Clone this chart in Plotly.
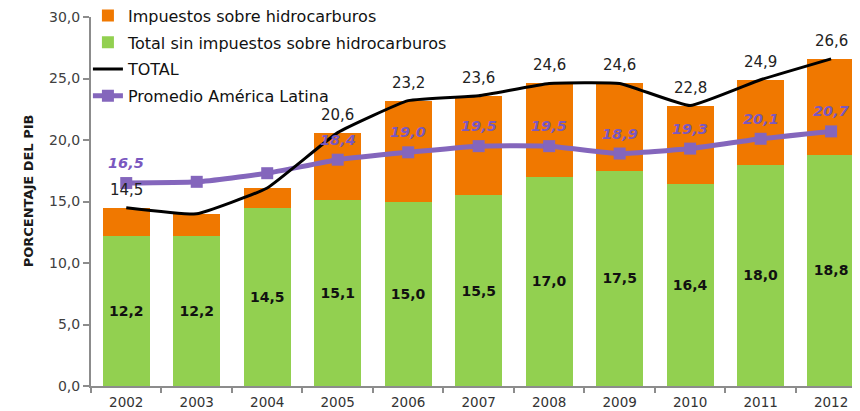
import plotly.graph_objects as go

years = ["2002", "2003", "2004", "2005", "2006", "2007", "2008", "2009", "2010", "2011", "2012"]
sin_hidro = [12.2, 12.2, 14.5, 15.1, 15.0, 15.5, 17.0, 17.5, 16.4, 18.0, 18.8]
total = [14.5, 14.0, 16.1, 20.6, 23.2, 23.6, 24.6, 24.6, 22.8, 24.9, 26.6]
hidro = [round(t - s, 1) for t, s in zip(total, sin_hidro)]
promedio_al = [16.5, 16.6, 17.3, 18.4, 19.0, 19.5, 19.5, 18.9, 19.3, 20.1, 20.7]
show_total_label = [True, False, False, True, True, True, True, True, True, True, True]
show_prom_label = [True, False, False, True, True, True, True, True, True, True, True]

FONT = "DejaVu Sans"
ORANGE = "#F07800"
GREEN = "#92D050"
PURPLE = "#8466BC"
PURPLE_TXT = "#7A58C0"


def fmt(v):
    return f"{v:.1f}".replace(".", ",")


fig = go.Figure()
fig.add_trace(go.Bar(
    x=years, y=sin_hidro, name="Total sin impuestos sobre hidrocarburos",
    marker=dict(color=GREEN, line=dict(width=0)),
    text=[fmt(v) for v in sin_hidro], textposition="inside",
    insidetextanchor="middle", textangle=0,
    textfont=dict(family=FONT, size=14, color="#111111", weight="bold"),
    legendrank=2, legendgroup="g2",
))
fig.add_trace(go.Bar(
    x=years, y=hidro, name="Impuestos sobre hidrocarburos",
    marker=dict(color=ORANGE, line=dict(width=0)),
    legendrank=1, legendgroup="g1",
))
fig.add_trace(go.Scatter(
    x=years, y=promedio_al, name="Promedio América Latina", mode="lines+markers",
    line=dict(color=PURPLE, width=5, shape="spline", smoothing=0.5),
    marker=dict(symbol="square", size=12, color=PURPLE),
    legendrank=4, legendgroup="g4",
))
fig.add_trace(go.Scatter(
    x=years, y=total, name="TOTAL", mode="lines",
    line=dict(color="#000000", width=3, shape="spline", smoothing=0.35),
    legendrank=3, legendgroup="g3",
))

annotations = []
for i, (v, show) in enumerate(zip(total, show_total_label)):
    if show:
        annotations.append(dict(
            x=i, y=v, xref="x", yref="y", text=fmt(v), showarrow=False,
            yshift=18, font=dict(family=FONT, size=15, color="#222222"),
        ))
for i, (v, show) in enumerate(zip(promedio_al, show_prom_label)):
    if show:
        annotations.append(dict(
            x=i, y=v, xref="x", yref="y", text="<b><i>" + fmt(v) + "</i></b>",
            showarrow=False, yshift=20,
            font=dict(family=FONT, size=14.5, color=PURPLE_TXT),
        ))
annotations.append(dict(
    x=-0.082, y=0.53, xref="paper", yref="paper", xanchor="center", yanchor="middle",
    text="<b>PORCENTAJE DEL PIB</b>", textangle=-90, showarrow=False,
    font=dict(family=FONT, size=13, color="#1a1a1a"),
))

# The page body adds an 8px offset, so the figure is sized to fill the rest of the window.
fig.update_layout(
    width=852, height=403,
    margin=dict(l=83, r=0, t=9, b=25, autoexpand=False),
    paper_bgcolor="white", plot_bgcolor="white",
    barmode="stack", bargap=0.33,
    separators=",.",
    font=dict(family=FONT, size=13, color="#404040"),
    showlegend=True,
    legend=dict(
        x=-0.004, y=1.05, xanchor="left", yanchor="top",
        bgcolor="rgba(0,0,0,0)", traceorder="grouped", tracegroupgap=3,
        font=dict(family=FONT, size=16, color="#111111"),
        itemwidth=30,
    ),
    annotations=annotations,
)
fig.update_xaxes(
    type="category", range=[-0.5, 10.41],
    showline=True, linecolor="#8C8C8C", linewidth=2,
    ticks="outside", tickson="boundaries", ticklen=5, tickcolor="#8C8C8C", tickwidth=2,
    ticklabelstandoff=3,
    tickfont=dict(family=FONT, size=13.5, color="#333333"),
    showgrid=False, zeroline=False,
)
fig.update_yaxes(
    range=[0, 30], tickvals=[0, 5, 10, 15, 20, 25, 30], tickformat=".1f",
    showline=True, linecolor="#8C8C8C", linewidth=2,
    ticks="outside", ticklen=6, tickcolor="#8C8C8C", tickwidth=2,
    tickfont=dict(family=FONT, size=14, color="#404040"),
    showgrid=False, zeroline=False,
)

fig.write_html("out.html")
